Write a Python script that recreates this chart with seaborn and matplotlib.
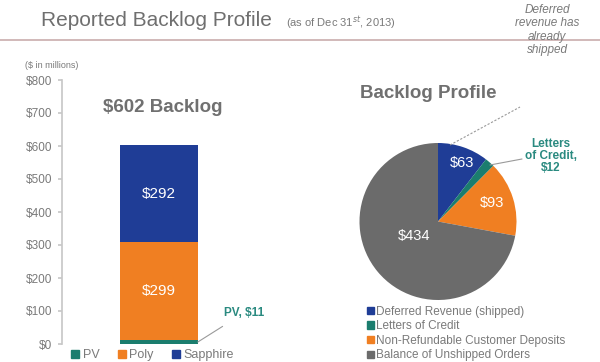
import matplotlib
matplotlib.use("Agg")
import matplotlib.pyplot as plt
from matplotlib.lines import Line2D
from matplotlib.patches import Patch
import seaborn as sns
import pandas as pd

# backlog by product ($ millions)
products = ["PV", "Poly", "Sapphire"]
product_values = [11, 299, 292]

# backlog profile ($ millions)
profile_labels = ["Deferred Revenue (shipped)", "Letters of Credit",
                  "Non-Refundable Customer Deposits", "Balance of Unshipped Orders"]
profile_values = [63, 12, 93, 434]

y_ticks = [0, 100, 200, 300, 400, 500, 600, 700, 800]

BLUE = "#1f3d96"
ORANGE = "#f07f22"
TEAL = "#1b7d6e"
GRAY = "#6b6b6b"
TXT = "#7a7a7a"
product_colors = [TEAL, ORANGE, BLUE]
profile_colors = [BLUE, TEAL, ORANGE, GRAY]

sns.set_theme(style="white")
plt.rcParams["font.family"] = ["Liberation Sans", "DejaVu Sans"]

W, H = 600, 362
fig = plt.figure(figsize=(W / 100, H / 100), dpi=100)


def px(x, y):
    return x / W, 1 - y / H


# title
fig.text(*px(41, 21), "Reported Backlog Profile", fontsize=15, color="#6f6f6f",
         va="center", ha="left")
fig.text(*px(286, 23), "(as of Dec 31$^{st}$, 2013)", fontsize=8, color="#7a7a7a",
         va="center", ha="left")
fig.add_artist(Line2D([0, 1], [1 - 40 / H] * 2, color="#c9adad", lw=1.2))

# stacked bar
ax = fig.add_axes([62 / W, 1 - 344 / H, 194 / W, 264 / H])
df = pd.DataFrame({"segment": products, "value": product_values})
df["top"] = df["value"].cumsum()
df["x"] = "Total"
for i in reversed(range(len(df))):
    sns.barplot(x=[df["x"][i]], y=[df["top"][i]], color=product_colors[i],
                width=0.4, ax=ax, saturation=1, linewidth=0)
ax.set_xlim(-0.5, 0.5)
ax.set_ylim(0, 800)
ax.set_yticks(y_ticks)
ax.set_yticklabels([f"${v}" for v in y_ticks], color=TXT, fontsize=8.5)
ax.set_xticks([])
ax.set_xlabel("")
ax.set_ylabel("")
for s in ["top", "right", "bottom"]:
    ax.spines[s].set_visible(False)
ax.spines["left"].set_color("#c8c8c8")
ax.tick_params(axis="y", length=3, color="#c8c8c8", pad=4, left=True)

bottoms = [0] + list(df["top"][:-1])
for b, v, name in zip(bottoms, product_values, products):
    if v > 50:
        ax.text(0, b + v / 2, f"${v}", ha="center", va="center", color="white",
                fontsize=11)
ax.text(0.02, 718, f"${sum(product_values)} Backlog", ha="center", va="center",
        color="#707070", fontsize=13.5, fontweight="bold")
ax.annotate(f"PV, ${product_values[0]}", xy=(0.2, 6), xytext=(0.44, 95),
            ha="center", va="center", color="#2a8a80", fontsize=8.5,
            fontweight="bold",
            arrowprops=dict(arrowstyle="-", color="#9a9a9a", lw=0.8,
                            shrinkA=6, shrinkB=0))
fig.text(*px(25, 66), "($ in millions)", fontsize=6.5, color=TXT, va="center")

handles = [Patch(color=c, label=n) for c, n in zip(product_colors, products)]
fig.legend(handles=handles, loc="center left", bbox_to_anchor=px(60, 355),
           ncol=3, frameon=False, fontsize=9, handlelength=0.6, handleheight=0.6,
           columnspacing=1.5, handletextpad=0.3, labelcolor=TXT)

# pie
pax = fig.add_axes([359.5 / W, 1 - 300 / H, 157 / W, 157 / H])
wedges, _ = pax.pie(profile_values, colors=profile_colors, startangle=90,
                    counterclock=False, radius=1,
                    wedgeprops=dict(linewidth=0))
pax.set_xlim(-1, 1)
pax.set_ylim(-1, 1)
pax.axis("off")
pax.text(0.31, 0.75, f"${profile_values[0]}", color="white", fontsize=10.5,
         ha="center", va="center")
pax.text(0.69, 0.23, f"${profile_values[2]}", color="white", fontsize=10.5,
         ha="center", va="center")
pax.text(-0.3, -0.19, f"${profile_values[3]}", color="white", fontsize=10.5,
         ha="center", va="center")

fig.text(*px(428, 94), "Backlog Profile", fontsize=13.5, color="#707070",
         fontweight="bold", ha="center", va="center")
fig.text(*px(547, 30), "Deferred\nrevenue has\nalready\nshipped", fontsize=8.5,
         color=TXT, style="italic", ha="center", va="center", linespacing=1.15)
fig.add_artist(Line2D([450 / W, 520 / W], [1 - 145 / H, 1 - 107 / H],
                      color="#9a9a9a", lw=0.8, ls=(0, (2, 1.5))))
fig.text(*px(551, 156), "Letters\nof Credit,\n$12", fontsize=8.5, color="#2a8a80",
         fontweight="bold", ha="center", va="center", linespacing=1.05)
fig.add_artist(Line2D([490 / W, 522 / W], [1 - 165 / H, 1 - 159 / H],
                      color="#9a9a9a", lw=0.8))

phandles = [Patch(color=c, label=n) for c, n in zip(profile_colors, profile_labels)]
fig.legend(handles=phandles, loc="upper left", bbox_to_anchor=px(356, 295),
           ncol=1, frameon=False, fontsize=8.5, handlelength=0.6, handleheight=0.6,
           handletextpad=0.2, labelspacing=0.22, labelcolor=TXT)

fig.savefig("out.png", dpi=100, facecolor="white")
